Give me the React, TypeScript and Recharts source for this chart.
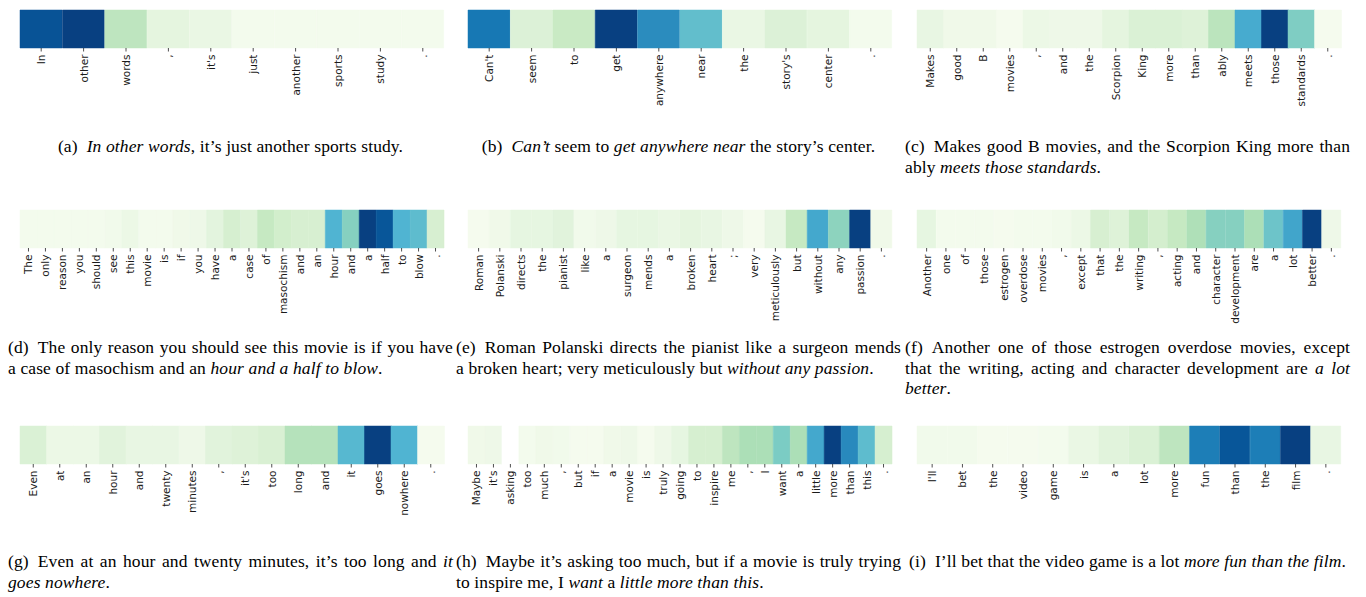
import React from 'react';
import { BarChart, Bar, XAxis, YAxis, Cell } from 'recharts';

// token labels and attention weights (0..1) per sentence
const wordsA = ['In', 'other', 'words', ',', "it's", 'just', 'another', 'sports', 'study', '.'];
const valsA = [0.94, 1, 0.3, 0.1, 0.07, 0.02, 0.02, 0.02, 0.02, 0.02];

const wordsB = ["Can't", 'seem', 'to', 'get', 'anywhere', 'near', 'the', "story's", 'center', '.'];
const valsB = [0.82, 0.15, 0.26, 1, 0.75, 0.57, 0.07, 0.15, 0.1, 0.02];

const wordsC = ['Makes', 'good', 'B', 'movies', ',', 'and', 'the', 'Scorpion', 'King', 'more', 'than', 'ably', 'meets', 'those', 'standards', '.'];
const valsC = [0.08, 0.04, 0.04, 0.01, 0.06, 0.05, 0.05, 0.1, 0.16, 0.16, 0.14, 0.31, 0.65, 1, 0.49, 0.01];

const wordsD = ['The', 'only', 'reason', 'you', 'should', 'see', 'this', 'movie', 'is', 'if', 'you', 'have', 'a', 'case', 'of', 'masochism', 'and', 'an', 'hour', 'and', 'a', 'half', 'to', 'blow', '.'];
const valsD = [0.02, 0.02, 0.02, 0.02, 0.02, 0.03, 0.06, 0.02, 0.02, 0.04, 0.05, 0.11, 0.19, 0.14, 0.27, 0.21, 0.18, 0.18, 0.62, 0.47, 1, 0.93, 0.62, 0.58, 0.18];

const wordsE = ['Roman', 'Polanski', 'directs', 'the', 'pianist', 'like', 'a', 'surgeon', 'mends', 'a', 'broken', 'heart', ';', 'very', 'meticulously', 'but', 'without', 'any', 'passion', '.'];
const valsE = [0.01, 0.04, 0.09, 0.09, 0.12, 0.03, 0.05, 0.09, 0.09, 0.07, 0.1, 0.08, 0.05, 0.01, 0.08, 0.27, 0.66, 0.45, 1, 0.04];

const wordsF = ['Another', 'one', 'of', 'those', 'estrogen', 'overdose', 'movies', ',', 'except', 'that', 'the', 'writing', ',', 'acting', 'and', 'character', 'development', 'are', 'a', 'lot', 'better', '.'];
const valsF = [0.09, 0.02, 0.02, 0.02, 0.01, 0.02, 0.02, 0.03, 0.06, 0.18, 0.14, 0.27, 0.2, 0.27, 0.35, 0.47, 0.47, 0.36, 0.54, 0.67, 1, 0.05];

const wordsG = ['Even', 'at', 'an', 'hour', 'and', 'twenty', 'minutes', ',', "it's", 'too', 'long', 'and', 'it', 'goes', 'nowhere', '.'];
const valsG = [0.16, 0.06, 0.06, 0.12, 0.08, 0.08, 0.05, 0.12, 0.14, 0.17, 0.33, 0.33, 0.6, 1, 0.62, 0.01];

const wordsH = ['Maybe', "it's", 'asking', 'too', 'much', ',', 'but', 'if', 'a', 'movie', 'is', 'truly', 'going', 'to', 'inspire', 'me', ',', 'I', 'want', 'a', 'little', 'more', 'than', 'this', '.'];
const valsH = [0.04, 0.05, null, 0.02, 0.04, 0.03, 0.01, 0.01, 0.04, 0.05, 0.01, 0.05, 0.09, 0.19, 0.19, 0.3, 0.36, 0.36, 0.5, 0.36, 0.66, 1, 0.76, 0.58, 0.19];

const wordsI = ["I'll", 'bet', 'the', 'video', 'game', 'is', 'a', 'lot', 'more', 'fun', 'than', 'the', 'film', '.'];
const valsI = [0.03, 0.03, 0.01, 0.01, 0.02, 0.07, 0.12, 0.16, 0.3, 0.8, 0.93, 0.8, 1, 0.08];

type Seg = [string, boolean];
const capA: Seg[][] = [[['In other words', true], [', it’s just another sports study.', false]]];
const capB: Seg[][] = [[['Can’t', true], [' seem to ', false], ['get anywhere near', true], [' the story’s center.', false]]];
const capC: Seg[][] = [
  [['Makes good B movies, and the Scorpion King more than', false]],
  [['ably ', false], ['meets those standards', true], ['.', false]],
];
const capD: Seg[][] = [
  [['The only reason you should see this movie is if you have', false]],
  [['a case of masochism and an ', false], ['hour and a half to blow', true], ['.', false]],
];
const capE: Seg[][] = [
  [['Roman Polanski directs the pianist like a surgeon mends', false]],
  [['a broken heart; very meticulously but ', false], ['without any passion', true], ['.', false]],
];
const capF: Seg[][] = [
  [['Another one of those estrogen overdose movies, except', false]],
  [['that the writing, acting and character development are ', false], ['a lot', true]],
  [['better', true], ['.', false]],
];
const capG: Seg[][] = [
  [['Even at an hour and twenty minutes, it’s too long and ', false], ['it', true]],
  [['goes nowhere', true], ['.', false]],
];
const capH: Seg[][] = [
  [['Maybe it’s asking too much, but if a movie is truly trying', false]],
  [['to inspire me, I ', false], ['want', true], [' a ', false], ['little more than this', true], ['.', false]],
];
const capI: Seg[][] = [[['I’ll bet that the video game is a lot ', false], ['more fun than the film', true], ['.', false]]];

// GnBu colormap stops
const GNBU = ['#f7fcf0', '#e0f3db', '#ccebc5', '#a8ddb5', '#7bccc4', '#4eb3d3', '#2b8cbe', '#0868ac', '#084081'];

function hexToRgb(h: string) {
  return [parseInt(h.slice(1, 3), 16), parseInt(h.slice(3, 5), 16), parseInt(h.slice(5, 7), 16)];
}

function gnbu(v: number | null) {
  if (v === null) return '#ffffff';
  const t = Math.max(0, Math.min(1, v)) * (GNBU.length - 1);
  const i = Math.min(GNBU.length - 2, Math.floor(t));
  const f = t - i;
  const a = hexToRgb(GNBU[i]);
  const b = hexToRgb(GNBU[i + 1]);
  const c = a.map((x, k) => Math.round(x + (b[k] - x) * f));
  return `rgb(${c[0]},${c[1]},${c[2]})`;
}

const COL_W = 445;
const COL_X = [8, 456, 905];

function WordTick(props: any) {
  const { x, y, payload, words } = props;
  return (
    <text
      x={x}
      y={y}
      transform={`rotate(-90, ${x}, ${y})`}
      textAnchor="end"
      dominantBaseline="central"
      fontSize={10.5}
      fontFamily="'DejaVu Sans', sans-serif"
      fill="#1a1a1a"
    >
      {words[payload.value]}
    </text>
  );
}

function Strip({ words, vals, left, top }: { words: string[]; vals: (number | null)[]; left: number; top: number }) {
  const rows = words.map((w, i) => ({ i, band: 1, v: vals[i] }));
  return (
    <div style={{ position: 'absolute', left, top }}>
      <BarChart width={COL_W} height={122} data={rows} margin={{ top: 2, right: 9, bottom: 0, left: 0 }} barCategoryGap={0}>
        <XAxis
          dataKey="i"
          interval={0}
          axisLine={false}
          tickSize={3.5}
          tickMargin={3}
          tickLine={{ stroke: '#222', strokeWidth: 0.8 }}
          tick={<WordTick words={words} />}
          height={82}
        />
        <YAxis
          type="number"
          domain={[0, 1]}
          ticks={[0.5]}
          tick={false}
          tickSize={3.5}
          tickLine={{ stroke: '#222', strokeWidth: 0.8 }}
          axisLine={false}
          width={12}
        />
        <Bar dataKey="band" isAnimationActive={false}>
          {rows.map((r) => (
            <Cell key={r.i} fill={gnbu(r.v)} stroke={gnbu(r.v)} strokeWidth={0.5} />
          ))}
        </Bar>
      </BarChart>
    </div>
  );
}

function Caption({ tag, lines, left, top }: { tag: string; lines: Seg[][]; left: number; top: number }) {
  const single = lines.length === 1;
  return (
    <div
      style={{
        position: 'absolute',
        left,
        top,
        width: COL_W,
        fontFamily: "'Liberation Serif', serif",
        fontSize: 17.5,
        letterSpacing: '0.12px',
        lineHeight: '20.5px',
        color: '#000',
      }}
    >
      {lines.map((ln, li) => {
        const last = li === lines.length - 1;
        const align = single ? 'center' : last ? 'left' : 'justify';
        return (
          <div key={li} style={{ textAlign: align as any, textAlignLast: align as any, whiteSpace: 'nowrap' }}>
            {li === 0 && <span style={{ marginRight: 9 }}>({tag})</span>}
            {ln.map(([t, it], k) => (
              <span key={k} style={{ fontStyle: it ? 'italic' : 'normal' }}>
                {t}
              </span>
            ))}
          </div>
        );
      })}
    </div>
  );
}

const STRIP_TOP = [8, 208, 424];
const CAP_TOP = [136, 337, 551];

export default function App() {
  const panels = [
    { tag: 'a', words: wordsA, vals: valsA, cap: capA },
    { tag: 'b', words: wordsB, vals: valsB, cap: capB },
    { tag: 'c', words: wordsC, vals: valsC, cap: capC },
    { tag: 'd', words: wordsD, vals: valsD, cap: capD },
    { tag: 'e', words: wordsE, vals: valsE, cap: capE },
    { tag: 'f', words: wordsF, vals: valsF, cap: capF },
    { tag: 'g', words: wordsG, vals: valsG, cap: capG },
    { tag: 'h', words: wordsH, vals: valsH, cap: capH },
    { tag: 'i', words: wordsI, vals: valsI, cap: capI },
  ];
  return (
    <div style={{ position: 'absolute', left: 0, top: 0, width: 1366, height: 597, background: '#fff', overflow: 'hidden' }}>
      {panels.map((p, k) => {
        const row = Math.floor(k / 3);
        const col = k % 3;
        return (
          <React.Fragment key={p.tag}>
            <Strip words={p.words} vals={p.vals} left={COL_X[col]} top={STRIP_TOP[row]} />
            <Caption tag={p.tag} lines={p.cap} left={COL_X[col]} top={CAP_TOP[row]} />
          </React.Fragment>
        );
      })}
    </div>
  );
}
